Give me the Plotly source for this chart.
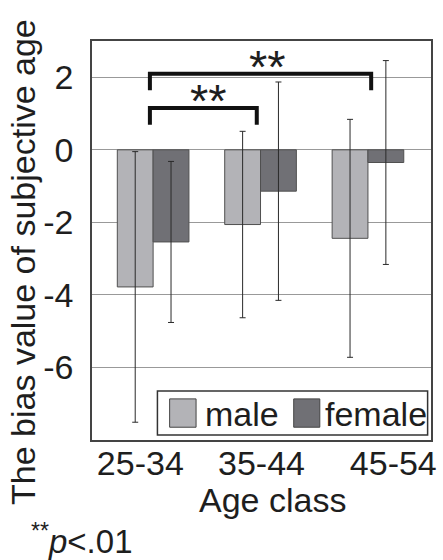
import plotly.graph_objects as go

# ---- data ----
categories = ["25-34", "35-44", "45-54"]
male_mean = [-3.78, -2.06, -2.44]
male_sd = [3.73, 2.57, 3.28]
female_mean = [-2.54, -1.14, -0.35]
female_sd = [2.22, 3.01, 2.81]
# significance brackets: (category index a, category index b, label)
brackets = [(0, 1, "**"), (0, 2, "**")]
bracket_y = [1.15, 2.10]
y_ticks = [-6, -4, -2, 0, 2]

FONT = "Liberation Sans, Arial, sans-serif"
TXT = "#1e1e1e"
MALE_C = "#b3b3b7"
FEMALE_C = "#707075"

x_idx = list(range(len(categories)))

fig = go.Figure()
fig.add_trace(go.Bar(
    x=x_idx, y=male_mean, name="male",
    marker=dict(color=MALE_C, line=dict(color="#505050", width=1)),
    error_y=dict(type="data", array=male_sd, visible=True,
                 color="#2a2a2a", thickness=1, width=3),
))
fig.add_trace(go.Bar(
    x=x_idx, y=female_mean, name="female",
    marker=dict(color=FEMALE_C, line=dict(color="#505050", width=1)),
    error_y=dict(type="data", array=female_sd, visible=True,
                 color="#2a2a2a", thickness=1, width=3),
))

shapes = []
annotations = []
# brackets
for (a, b, lab), yb in zip(brackets, bracket_y):
    xa = a - 0.03
    xb = b + (0.03 if b == 2 else -0.035)
    drop = 0.46
    shapes.append(dict(
        type="path", xref="x", yref="y",
        path=f"M {xa},{yb - drop} L {xa},{yb} L {xb},{yb} L {xb},{yb - drop}",
        line=dict(color="#111111", width=4),
    ))
    annotations.append(dict(
        x=(xa + xb) / 2, y=yb, xref="x", yref="y",
        text=lab, showarrow=False, xanchor="center", yanchor="bottom",
        xshift=7 if b == 2 else 5, yshift=-21,
        font=dict(family=FONT, size=47, color=TXT),
    ))

# custom legend (box, swatches, labels)
shapes.append(dict(type="rect", xref="paper", yref="paper",
                   x0=0.193, x1=0.990, y0=0.0125, y1=0.1228,
                   line=dict(color="#333333", width=1.5), fillcolor="white"))
for x0, x1, col in [(0.229, 0.307, MALE_C), (0.595, 0.672, FEMALE_C)]:
    shapes.append(dict(type="rect", xref="paper", yref="paper",
                       x0=x0, x1=x1, y0=0.032, y1=0.103,
                       line=dict(color="#444444", width=1), fillcolor=col))
for xl, lab in [(0.3285, "male"), (0.682, "female")]:
    annotations.append(dict(
        x=xl, y=0.066, xref="paper", yref="paper", text=lab,
        showarrow=False, xanchor="left", yanchor="middle",
        font=dict(family=FONT, size=34, color=TXT),
    ))

# axis titles and note
annotations.append(dict(
    x=-0.202, y=0.445, xref="paper", yref="paper",
    text="The bias value of subjective age", textangle=-90,
    showarrow=False, xanchor="center", yanchor="middle",
    font=dict(family=FONT, size=34, color=TXT),
))
annotations.append(dict(
    x=0.532, y=-0.150, xref="paper", yref="paper", text="Age class",
    showarrow=False, xanchor="center", yanchor="middle",
    font=dict(family=FONT, size=34, color=TXT),
))
annotations.append(dict(
    x=-0.186, y=-0.248, xref="paper", yref="paper",
    text="<sup>**</sup><i>p</i>&lt;.01",
    showarrow=False, xanchor="left", yanchor="middle",
    font=dict(family=FONT, size=33, color=TXT),
))

fig.update_layout(
    width=443, height=560,
    margin=dict(l=92, r=7, t=41, b=120),
    paper_bgcolor="white", plot_bgcolor="white",
    barmode="group", bargap=0.333, bargroupgap=0,
    showlegend=False,
    shapes=shapes, annotations=annotations,
    font=dict(family=FONT, color=TXT),
)
fig.update_xaxes(
    range=[-0.569, 2.587],
    tickmode="array", tickvals=[-0.119, 1.009, 2.236], ticktext=categories,
    tickfont=dict(family=FONT, size=34, color=TXT),
    showgrid=False, zeroline=False,
    showline=True, mirror=True, linecolor="#444444", linewidth=1.5,
    ticks="", ticklabelstandoff=-8,
)
fig.update_yaxes(
    range=[-8, 3],
    tickmode="array", tickvals=y_ticks, ticktext=[str(v) for v in y_ticks],
    tickfont=dict(family=FONT, size=34, color=TXT),
    showgrid=True, gridcolor="#999999", gridwidth=1, zeroline=False,
    showline=True, mirror=True, linecolor="#444444", linewidth=1.5,
    ticks="", ticklabelstandoff=10,
)

fig.write_html("out.html")
